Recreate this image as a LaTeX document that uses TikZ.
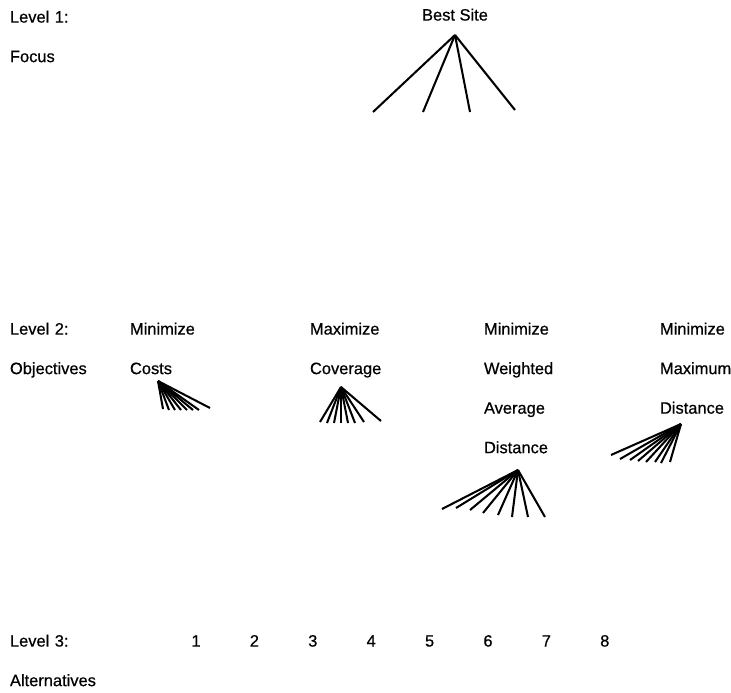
\documentclass[tikz,border=0pt]{standalone}
\usepackage{fontspec}
\setmainfont{Liberation Sans}
\newfontfamily\scanfont[FakeBold=0.6]{Liberation Sans}
\usetikzlibrary{positioning}

\begin{document}
\begin{tikzpicture}[
            x=0.025cm, y=-0.025cm,
            node distance=0.57cm,
            word/.style={inner sep=0pt, text width=2.4cm, align=left, text height=9pt, text depth=2.5pt, font=\scanfont\fontsize{11.7}{14}\selectfont},
            num/.style={inner sep=0pt, text height=9pt, text depth=2.5pt, font=\scanfont\fontsize{11.7}{14}\selectfont},
            edge/.style={line width=1.45pt}
        ]
            \useasboundingbox (0,0) rectangle (731,692);

            % Level 1
            \node[word] (lvl1) at (58,18) {Level 1:};
            \node[word, below=of lvl1] (focus) {Focus};
            \node[num] (site) at (455,16) {Best Site};
            \coordinate (site-apex) at (455,35);

            % Level 2
            \node[word] (lvl2) at (58,330) {Level 2:};
            \node[word, below=of lvl2] (objectives) {Objectives};
            \node[word] (min1) at (178,330) {Minimize};
            \node[word, below=of min1] (costs) {Costs};
            \node[word] (max) at (358,330) {Maximize};
            \node[word, below=of max] (coverage) {Coverage};
            \node[word] (min2) at (532,330) {Minimize};
            \node[word, below=of min2] (weighted) {Weighted};
            \node[word, below=of weighted] (average) {Average};
            \node[word, below=of average] (wdistance) {Distance};
            \node[word] (min3) at (708,330) {Minimize};
            \node[word, below=of min3] (maximum) {Maximum};
            \node[word, below=of maximum] (mdistance) {Distance};

            % Level 3
            \node[word] (lvl3) at (58,642) {Level 3:};
            \node[word, below=of lvl3] (alternatives) {Alternatives};
            \foreach \n in {1,...,8}
                \node[num] (alt\n) at ({196+58.4*(\n-1)},642) {\n};

            % Fans
            \foreach \x/\y [count=\i] in {373/112, 423/112, 470/112, 515/110} {
                \coordinate (site-\i) at (\x,\y);
                \draw[edge] (site-apex) -- (site-\i);
            }
            \coordinate (costs-apex) at (158,381);
            \foreach \x/\y [count=\i] in {163/409, 169/410, 175/410, 181/410, 187/410, 193/410, 199/410, 210/408} {
                \coordinate (costs-\i) at (\x,\y);
                \draw[edge] (costs-apex) -- (costs-\i);
            }
            \coordinate (cover-apex) at (341,387);
            \foreach \x/\y [count=\i] in {320/422, 327/423, 334/423, 341/423, 348/423, 355/423, 364/422, 381/421} {
                \coordinate (cover-\i) at (\x,\y);
                \draw[edge] (cover-apex) -- (cover-\i);
            }
            \coordinate (wdist-apex) at (518,470);
            \foreach \x/\y [count=\i] in {442/509, 456/508, 470/510, 483/513, 498/515, 512/517, 528/517, 545/517} {
                \coordinate (wdist-\i) at (\x,\y);
                \draw[edge] (wdist-apex) -- (wdist-\i);
            }
            \coordinate (mdist-apex) at (681,424);
            \foreach \x/\y [count=\i] in {611/455, 620/459, 630/460, 638/461, 646/462, 655/462, 661/463, 670/462} {
                \coordinate (mdist-\i) at (\x,\y);
                \draw[edge] (mdist-apex) -- (mdist-\i);
            }
        \end{tikzpicture}
\end{document}
